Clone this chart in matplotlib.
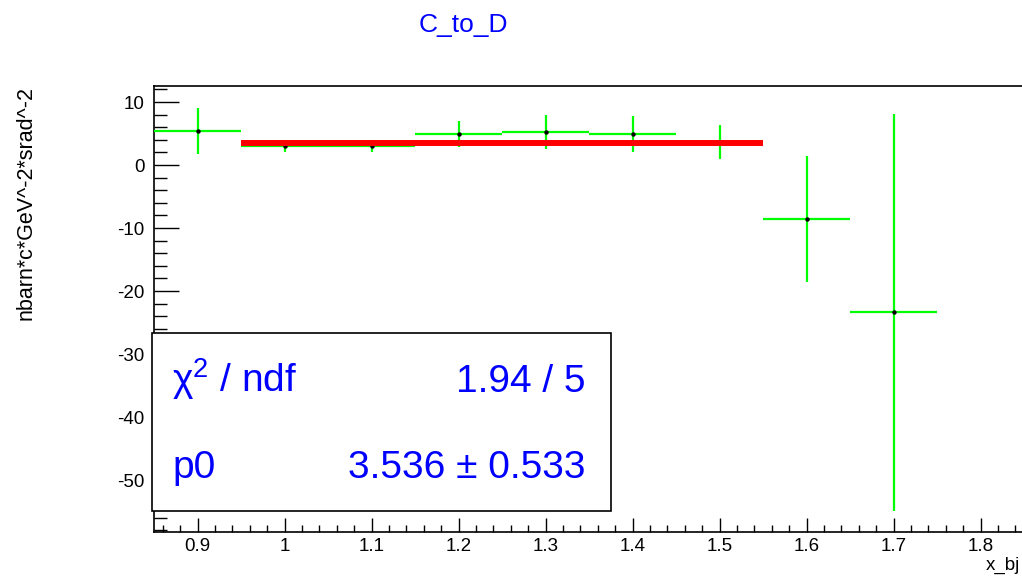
import matplotlib
matplotlib.use("Agg")
import matplotlib.pyplot as plt
from matplotlib.patches import Rectangle
from matplotlib.ticker import MultipleLocator

plt.rcParams['font.family'] = ['Liberation Sans', 'DejaVu Sans']
plt.rcParams['mathtext.fontset'] = 'custom'
plt.rcParams['mathtext.rm'] = 'Liberation Sans'
plt.rcParams['mathtext.it'] = 'Liberation Sans:italic'
plt.rcParams['axes.unicode_minus'] = False

# histogram bins (x_bj), contents and errors
bin_centers = [0.9, 1.0, 1.1, 1.2, 1.3, 1.4, 1.5, 1.6, 1.7]
bin_values = [5.4, 3.0, 3.0, 4.9, 5.3, 4.9, 3.7, -8.6, -23.4]
bin_errors = [3.7, 0.9, 0.9, 2.1, 2.7, 2.8, 2.7, 10.0, 31.5]
bin_half_width = 0.05

# constant fit pol0
fit_range = [0.95, 1.55]
p0 = 3.536
p0_err = 0.533
chi2_text = "1.94 / 5"

green = '#00ff00'
blue = '#0000ff'

fig = plt.figure(figsize=(10.22, 5.83), dpi=100, facecolor='white')
W, H = 1022, 583
ax = fig.add_axes([154 / W, 1 - 532 / H, (1024 - 154) / W, (532 - 86) / H])

ax.errorbar(bin_centers, bin_values, xerr=bin_half_width, yerr=bin_errors,
            fmt='o', ms=2.2, mfc='k', mec='k', ecolor=green,
            elinewidth=1.6, capsize=0, zorder=3)
ax.plot(fit_range, [p0, p0], color='#ff0000', lw=4.3, solid_capstyle='butt', zorder=4)

ax.set_xlim(0.85, 1.85)
ax.set_ylim(-58.25, 12.54)
ax.xaxis.set_major_locator(MultipleLocator(0.1))
ax.xaxis.set_minor_locator(MultipleLocator(0.02))
ax.yaxis.set_major_locator(MultipleLocator(10))
ax.yaxis.set_minor_locator(MultipleLocator(2))
ax.set_xticks([0.9, 1.0, 1.1, 1.2, 1.3, 1.4, 1.5, 1.6, 1.7, 1.8])
ax.set_xticklabels(['0.9', '1', '1.1', '1.2', '1.3', '1.4', '1.5', '1.6', '1.7', '1.8'])

ax.tick_params(axis='both', which='both', direction='in', width=1.0,
               top=False, right=False, labelsize=13.5)
ax.tick_params(axis='x', which='major', length=10, pad=4)
ax.tick_params(axis='x', which='minor', length=5)
ax.tick_params(axis='y', which='major', length=18, pad=7)
ax.tick_params(axis='y', which='minor', length=9)
for s in ax.spines.values():
    s.set_linewidth(1.2)

# titles
fig.text(463 / W, 1 - 32 / H, 'C_to_D', color=blue, fontsize=19,
         ha='center', va='baseline')
fig.text(26 / W, 1 - 203 / H, 'nbarn*c*GeV^-2*srad^-2', rotation=90,
         fontsize=15.5, ha='center', va='center')
fig.text(1020 / W, 1 - 570 / H, 'x_bj', fontsize=13.5, ha='right', va='baseline')

# stats box
box = Rectangle((152 / W, 1 - 511 / H), (611 - 152) / W, (511 - 333) / H,
                transform=fig.transFigure, facecolor='white', edgecolor='black',
                lw=1.2, zorder=10, clip_on=False)
ax.add_patch(box)
ax.text(172 / W, 1 - 392 / H, '\u03c7$^{2}$ / ndf', transform=fig.transFigure,
        color=blue, fontsize=28, ha='left', va='baseline', zorder=11)
ax.text(585 / W, 1 - 392 / H, chi2_text, transform=fig.transFigure,
        color=blue, fontsize=28, ha='right', va='baseline', zorder=11)
ax.text(172 / W, 1 - 478 / H, 'p0', transform=fig.transFigure,
        color=blue, fontsize=28, ha='left', va='baseline', zorder=11)
ax.text(585 / W, 1 - 478 / H, f'{p0:.3f} \u00b1 {p0_err:.3f}', transform=fig.transFigure,
        color=blue, fontsize=28, ha='right', va='baseline', zorder=11)

fig.savefig('out.png', dpi=100)
